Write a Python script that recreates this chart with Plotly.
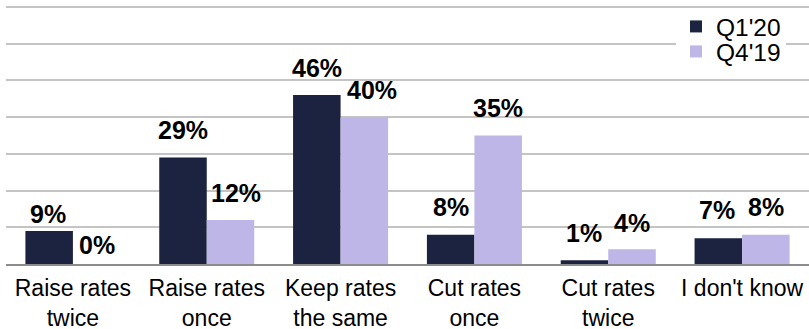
import plotly.graph_objects as go

# ---- data ----
categories = ["Raise rates<br>twice", "Raise rates<br>once", "Keep rates<br>the same",
              "Cut rates<br>once", "Cut rates<br>twice", "I don't know"]
q1_20 = [9, 29, 46, 8, 1, 7]
q4_19 = [0, 12, 40, 35, 4, 8]
series_names = ["Q1'20", "Q4'19"]

# label nudges (pixels) for the data labels
q1_dx = [-1.5, 0, 0, 0, 0, -1]
q1_dy = [1.4, 11.4, 11.4, 11.4, 11.4, 12.5]
q4_dx = [0, 5, 7.5, 0, 0, 0]
q4_dy = [3.0, 11.4, 11, 11.4, 10.5, 11.4]

NAVY = "#1B2340"
LAV = "#BDB6E6"
FONT = "Liberation Sans"

fig = go.Figure()
# Q1'20 goes to legend2 (transparent, drawn last), Q4'19 to legend (white box)
fig.add_trace(go.Bar(x=categories, y=q1_20, name=series_names[0], marker_color=NAVY,
                     marker_line_width=0, legend="legend2"))
fig.add_trace(go.Bar(x=categories, y=q4_19, name=series_names[1], marker_color=LAV,
                     marker_line_width=0, legend="legend"))

W, H = 809, 329
ML, MR, MT, MB = 6, 0, 0, 65
plot_h = H - MT - MB
cat_w = (W - ML - MR) / len(categories)
bargap = 0.29
half = cat_w * (1 - bargap) / 4  # offset from category centre to each bar centre

annotations = []
for i, c in enumerate(categories):
    annotations.append(dict(x=c, y=q1_20[i], xref="x", yref="y", text=f"{q1_20[i]}%",
                            showarrow=False, xanchor="center", yanchor="bottom",
                            xshift=-half + q1_dx[i], yshift=q1_dy[i],
                            font=dict(family=FONT, size=25, color="#000000", weight="bold")))
    annotations.append(dict(x=c, y=q4_19[i], xref="x", yref="y", text=f"{q4_19[i]}%",
                            showarrow=False, xanchor="center", yanchor="bottom",
                            xshift=half + q4_dx[i], yshift=q4_dy[i],
                            font=dict(family=FONT, size=25, color="#000000", weight="bold")))

leg_x = (676 - ML) / (W - ML - MR)
fig.update_layout(
    width=W, height=H,
    margin=dict(l=ML, r=MR, t=MT, b=MB, pad=0),
    paper_bgcolor="white", plot_bgcolor="white",
    barmode="group", bargap=bargap, bargroupgap=0,
    font=dict(family=FONT, color="#000000"),
    xaxis=dict(type="category", showticklabels=True, ticks="", ticklen=0,
               ticklabelstandoff=2,
               tickfont=dict(family=FONT, size=23, color="#000000"),
               showgrid=False, automargin=False,
               showline=True, linecolor="#8C8C8C", linewidth=2, zeroline=False,
               range=[-0.5, len(categories) - 0.5]),
    yaxis=dict(range=[0, 264.3 / 3.676], dtick=10, tick0=0, showticklabels=False,
               ticks="", showgrid=True, gridcolor="#C4C4C4", gridwidth=2,
               zeroline=False, showline=False),
    legend=dict(x=leg_x, xanchor="left",
                y=(plot_h - 51.5) / plot_h, yanchor="middle",
                bgcolor="white", borderwidth=0,
                font=dict(family=FONT, size=24.5, color="#000000")),
    legend2=dict(x=leg_x, xanchor="left",
                 y=(plot_h - 26.5) / plot_h, yanchor="middle",
                 bgcolor="rgba(255,255,255,0)", borderwidth=0,
                 font=dict(family=FONT, size=24.5, color="#000000")),
    annotations=annotations,
    showlegend=True,
)

fig.write_html("out.html")
